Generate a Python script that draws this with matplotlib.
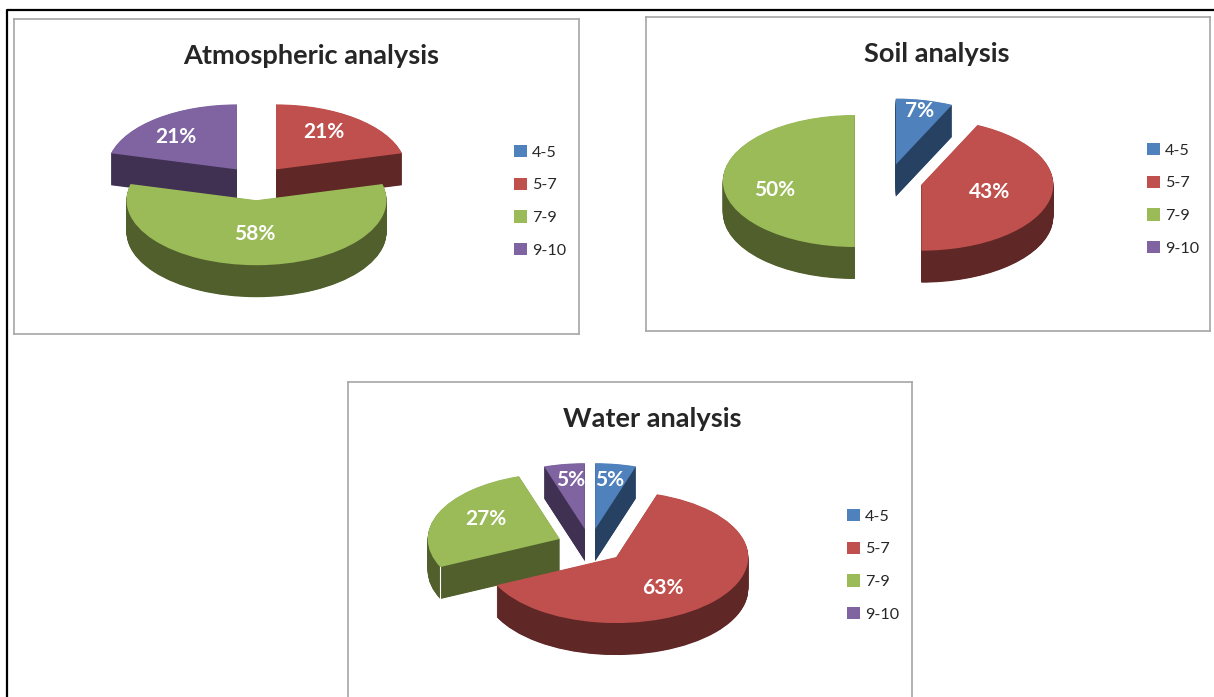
import matplotlib
matplotlib.use("Agg")
import matplotlib.pyplot as plt
import numpy as np
from matplotlib.lines import Line2D
from matplotlib.patches import Patch

W, H = 1214, 697

bins = ["4-5", "5-7", "7-9", "9-10"]
atmospheric = [0, 21, 58, 21]
soil = [7, 43, 50, 0]
water = [5, 63, 27, 5]

top_colors = ["#4F81BD", "#C0504D", "#9BBB59", "#8064A2"]
wall_colors = ["#264161", "#5F2726", "#505F2B", "#403153"]
frame_color = "#A6A6A6"
text_color = "#262626"

plt.rcParams["font.family"] = ["Lato", "DejaVu Sans"]

# Each chart: frame box (pixels), pie centre and radius, slice explosion as a
# fraction of the radius, back-to-front painting order, title and legend
# positions, label anchors.
charts = [
    dict(title="Atmospheric analysis", values=atmospheric,
         box=(14, 18.5, 579, 334), centre=(256.5, 182), radius=130,
         explode=[0.25, 0.245, 0.28, 0.245], order=[3, 1, 2, 0],
         title_xy=(311, 56), legend_xy=(514, 145),
         label_xy={1: (324, 132), 2: (255, 234), 3: (176, 137)}),
    dict(title="Soil analysis", values=soil,
         box=(646, 17, 1210, 331), centre=(888.5, 181), radius=132,
         explode=[0.255, 0.255, 0.255, 0.255], order=[0, 2, 1, 3],
         title_xy=(937, 54), legend_xy=(1147, 143),
         label_xy={0: (920, 111), 1: (990, 192), 2: (775, 190)}),
    dict(title="Water analysis", values=water,
         box=(348, 382, 912, 720), centre=(590, 545.5), radius=132,
         explode=[0.25, 0.265, 0.25, 0.25], order=[0, 3, 2, 1],
         title_xy=(652, 419), legend_xy=(847, 509),
         label_xy={0: (610, 480), 1: (663, 588), 2: (486, 519), 3: (571, 480)},
         seam_slice=2),
]

DEPTH = 32       # pie thickness in pixels
SQUASH = 2.0     # data units of y per vertical pixel, which flattens the pies


def to_y(py):
    return (H - py) * SQUASH


fig = plt.figure(figsize=(W / 100, H / 100), dpi=100, facecolor="white")

for ch in charts:
    x0, y0, x1, y1 = ch["box"]
    ax = fig.add_axes([x0 / W, 1 - y1 / H, (x1 - x0) / W, (y1 - y0) / H])
    cx, cy = ch["centre"]
    offsets = [e * ch["radius"] for e in ch["explode"]]

    # The thickness is built up from stacked pies, darkest colours below,
    # with slices painted back to front so nearer walls hide farther tops.
    steps = [DEPTH - 0.5 * i for i in range(2 * DEPTH + 1)]
    for layer, drop in enumerate(steps):
        wedges, _ = ax.pie(
            ch["values"], explode=offsets, radius=ch["radius"],
            center=(cx, to_y(cy + drop)), startangle=90, counterclock=False,
            colors=top_colors if drop == 0 else wall_colors,
            wedgeprops=dict(linewidth=0),
        )
        for i, w in enumerate(wedges):
            w.set_zorder(10 + ch["order"].index(i) * 1000 + layer)
            w.set_visible(ch["values"][i] > 0)

    # Thin highlight down the outer corner of a flat cut face
    if "seam_slice" in ch:
        w = wedges[ch["seam_slice"]]
        a = np.radians(w.theta2)
        sx = w.center[0] + w.r * np.cos(a)
        sy = w.center[1] + w.r * np.sin(a)
        ax.add_line(Line2D([sx, sx], [sy, sy - DEPTH * SQUASH], color="white",
                           linewidth=0.8, zorder=8000))

    ax.set_aspect("auto")
    ax.set_xlim(x0, x1)
    ax.set_ylim(to_y(y1), to_y(y0))
    ax.set_frame_on(True)
    ax.set_facecolor("white")
    for s in ax.spines.values():
        s.set_color(frame_color)
        s.set_linewidth(1.2)

    tx, ty = ch["title_xy"]
    ax.text(tx, to_y(ty), ch["title"], ha="center", va="center",
            fontsize=19.6, fontweight="bold", color=text_color, zorder=9000)

    for i, (lx, ly) in ch["label_xy"].items():
        ax.text(lx, to_y(ly), f"{ch['values'][i]}%", ha="center", va="center",
                fontsize=15, fontweight="bold", color="white", zorder=9000)

    handles = [Patch(facecolor=c, edgecolor="none") for c in top_colors]
    lx, ly = ch["legend_xy"]
    ax.legend(handles, bins, loc="upper left", frameon=False,
              bbox_to_anchor=(lx, to_y(ly)), bbox_transform=ax.transData,
              fontsize=11.6, labelcolor=text_color, handlelength=0.78,
              handleheight=0.78, handletextpad=0.35, labelspacing=1.12,
              borderpad=0, borderaxespad=0)

# Page rules along the top and left; the rest runs off the figure
fig.add_artist(Line2D([7 / W, 7 / W, 1.02], [-0.02, 1 - 10 / H, 1 - 10 / H],
                      transform=fig.transFigure, color="black", linewidth=1.6,
                      zorder=100))

fig.savefig("out.png", dpi=100)
